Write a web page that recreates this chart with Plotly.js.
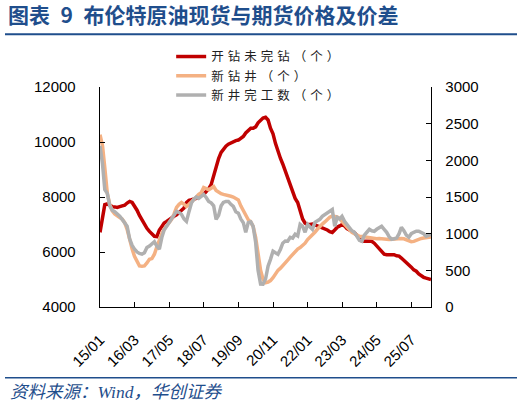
<!DOCTYPE html>
<html>
<head>
<meta charset="utf-8">
<script src="https://cdn.plot.ly/plotly-3.0.1.min.js"></script>
<style>
html,body{margin:0;padding:0;background:#fff;}
#chart{width:524px;height:413px;}
#chart .legendtext{letter-spacing:4px;}
#chart .legend .scrollbox{clip-path:none !important;}
</style>
</head>
<body>
<div id="chart"></div>
<script>
// Monthly data, 2015-01 .. 2026-03
var startYear = 2015, startMonth = 1, nMonths = 135;
var months = [];
for (var i = 0; i < nMonths; i++) {
  var y = startYear + Math.floor((startMonth - 1 + i) / 12);
  var m = (startMonth - 1 + i) % 12 + 1;
  months.push(y + '-' + (m < 10 ? '0' + m : m) + '-01');
}

var seriesNames = ['开钻未完钻（个）', '新钻井（个）', '新井完工数（个）'];

// 开钻未完钻 (left axis)
var ducs = [
  6715, 7300, 7720, 7750, 7700, 7650, 7640, 7620, 7650, 7660, 7700, 7780,
  7840, 7800, 7680, 7520, 7330, 7150, 7000, 6860, 6750, 6650, 6570, 6560,
  6800, 6930, 7050, 7110, 7180, 7250, 7300, 7350, 7450, 7500, 7600, 7800,
  7880, 7900, 7920, 7950, 8000, 8050, 8100, 8200, 8300, 8450, 8800, 9150,
  9400, 9620, 9750, 9850, 9920, 9970, 10000, 10050, 10070, 10150, 10200, 10330,
  10440, 10500, 10500, 10550, 10700, 10800, 10870, 10900, 10800, 10500, 10300, 9950,
  9650, 9400, 9200, 8950, 8650, 8400, 8160, 7950, 7800, 7500, 7200, 7050,
  7000, 7000, 7020, 6990, 6950, 6920, 6900, 6850, 6800, 6740, 6710, 6800,
  6900, 6950, 7000, 6950, 6850, 6800, 6750, 6700, 6600, 6500, 6400, 6390,
  6380, 6390, 6390, 6320, 6220, 6100, 6000, 5920, 5900, 5910, 5920, 5900,
  5860, 5850, 5780, 5700, 5640, 5550, 5450, 5350, 5300, 5200, 5120, 5080,
  5050, 5020, 5000
];

// 新钻井 (right axis)
var drilled = [
  2350, 2200, 1900, 1550, 1400, 1310, 1270, 1240, 1220, 1200, 1150, 1060,
  900, 790, 690, 610, 560, 555, 560, 600, 650, 660, 720, 820,
  930, 1000, 1060, 1100, 1150, 1195, 1270, 1358, 1400, 1426, 1400, 1372,
  1400, 1440, 1467, 1500, 1535, 1560, 1630, 1610, 1600, 1620, 1643, 1590,
  1560, 1545, 1535, 1530, 1520, 1510, 1500, 1480, 1460, 1380, 1310, 1240,
  1190, 1160, 1100, 950, 750, 500, 380, 330, 340, 360, 400, 460,
  500, 530, 560, 600, 640, 680, 720, 760, 790, 810, 835, 870,
  920, 950, 990, 1020, 1060, 1100, 1130, 1160, 1200, 1225, 1240, 1236,
  1230, 1200, 1168, 1120, 1087, 1050, 1019, 1000, 980, 965, 960, 955,
  951, 945, 935, 924, 930, 935, 930, 925, 930, 920, 925, 930,
  935, 940, 935, 930, 920, 900, 890, 895, 910, 925, 935, 940,
  945, 950, 955
];

// 新井完工数 (right axis)
var completed = [
  2200, 1950, 1600, 1550, 1380, 1320, 1300, 1270, 1240, 1195, 1150, 1100,
  930, 840, 790, 750, 730, 720, 740, 810, 830, 860, 890, 830,
  790, 950, 1050, 1100, 1150, 1195, 1250, 1304, 1290, 1263, 1200, 1168,
  1300, 1420, 1467, 1500, 1480, 1510, 1535, 1494, 1440, 1420, 1380, 1195,
  1250, 1380, 1426, 1440, 1440, 1400, 1372, 1300, 1280, 1200, 1150, 1019,
  1150, 1160, 1100, 883, 500, 313, 310, 381, 557, 650, 761, 740,
  720, 788, 870, 900, 897, 951, 940, 992, 970, 1127, 1100, 1019,
  1127, 1090, 1060, 1154, 1170, 1195, 1236, 1260, 1290, 1310, 1330, 1100,
  1222, 1200, 1236, 1168, 1120, 1087, 1040, 1019, 951, 910, 897, 980,
  1019, 1060, 1040, 1033, 1060, 1087, 1100, 1060, 1019, 960, 924, 930,
  940, 1000, 1087, 1040, 980, 951, 1000, 1019, 1033, 1033, 1019, 1000,
  965, 980, 992
];

var tickVals = ['2015-01-01','2016-03-01','2017-05-01','2018-07-01','2019-09-01',
                '2020-11-01','2022-01-01','2023-03-01','2024-05-01','2025-07-01'];
var tickText = ['15/01','16/03','17/05','18/07','19/09','20/11','22/01','23/03','24/05','25/07'];

var titleText = '图表\u20029\u2002布伦特原油现货与期货价格及价差';
var sourceText = '资料来源：Wind，华创证券';

var blue = '#1f4e8c';
var cjk = '"Noto Sans CJK SC", "Liberation Sans", sans-serif';
var latin = '"Liberation Sans", Arial, sans-serif';

var traces = [
  {x: months, y: ducs, name: seriesNames[0], type: 'scatter', mode: 'lines',
   line: {color: '#c00000', width: 3.5}, yaxis: 'y'},
  {x: months, y: drilled, name: seriesNames[1], type: 'scatter', mode: 'lines',
   line: {color: '#f4b183', width: 3.5}, yaxis: 'y2'},
  {x: months, y: completed, name: seriesNames[2], type: 'scatter', mode: 'lines',
   line: {color: '#b0b0b0', width: 3.5}, yaxis: 'y2'}
];

var layout = {
  width: 524, height: 413,
  margin: {l: 100, r: 93, t: 87, b: 106, pad: 0},
  paper_bgcolor: '#fff', plot_bgcolor: '#fff',
  showlegend: true,
  legend: {x: 0.215, xanchor: 'left', y: 1.205, yanchor: 'top',
           font: {family: cjk, size: 12.5, color: '#222'},
           bgcolor: 'rgba(0,0,0,0)', borderwidth: 0, tracegroupgap: 0},
  title: {text: '<b>' + titleText + '</b>', x: 8/524, xanchor: 'left', xref: 'container',
          y: 1 - 16/413, yanchor: 'middle', yref: 'container',
          font: {family: cjk, size: 21, color: blue}},
  xaxis: {type: 'date', range: ['2015-01-01', '2026-03-01'],
          tickvals: tickVals, ticktext: tickText, tickangle: -45,
          ticks: 'inside', ticklen: 5, tickcolor: '#000', tickwidth: 1,
          showline: true, linecolor: '#000', linewidth: 1.3,
          showgrid: false, zeroline: false, ticklabelstandoff: 17,
          tickfont: {family: latin, size: 15, color: '#000'}},
  yaxis: {range: [4000, 12000], dtick: 2000, tick0: 4000, tickformat: 'd',
          ticks: 'inside', ticklen: 5, tickcolor: '#000', tickwidth: 1,
          showline: true, linecolor: '#000', linewidth: 1.3,
          showgrid: false, zeroline: false, ticklabelstandoff: 20,
          tickfont: {family: latin, size: 15, color: '#000'}},
  yaxis2: {range: [0, 3000], dtick: 500, tick0: 0, overlaying: 'y', side: 'right', tickformat: 'd',
           ticks: 'inside', ticklen: 5, tickcolor: '#000', tickwidth: 1,
           showline: true, linecolor: '#000', linewidth: 1.3,
           showgrid: false, zeroline: false, ticklabelstandoff: 10,
           tickfont: {family: latin, size: 15, color: '#000'}},
  shapes: [
    {type: 'line', xref: 'paper', yref: 'paper', x0: (5-100)/331, x1: (517-100)/331,
     y0: (307-33)/221, y1: (307-33)/221, line: {color: blue, width: 2}},
    {type: 'line', xref: 'paper', yref: 'paper', x0: (5-100)/331, x1: (517-100)/331,
     y0: (307-378)/221, y1: (307-378)/221, line: {color: blue, width: 1.5}}
  ],
  annotations: [
    {text: '<i>' + sourceText + '</i>', xref: 'paper', yref: 'paper',
     x: (8-100)/331, xanchor: 'left', y: (307-392)/221, yanchor: 'middle',
     showarrow: false, font: {family: '"Liberation Serif", "Noto Sans CJK SC", serif', size: 17.5, color: blue}}
  ]
};

Plotly.newPlot('chart', traces, layout, {staticPlot: true, displayModeBar: false});
</script>
</body>
</html>
